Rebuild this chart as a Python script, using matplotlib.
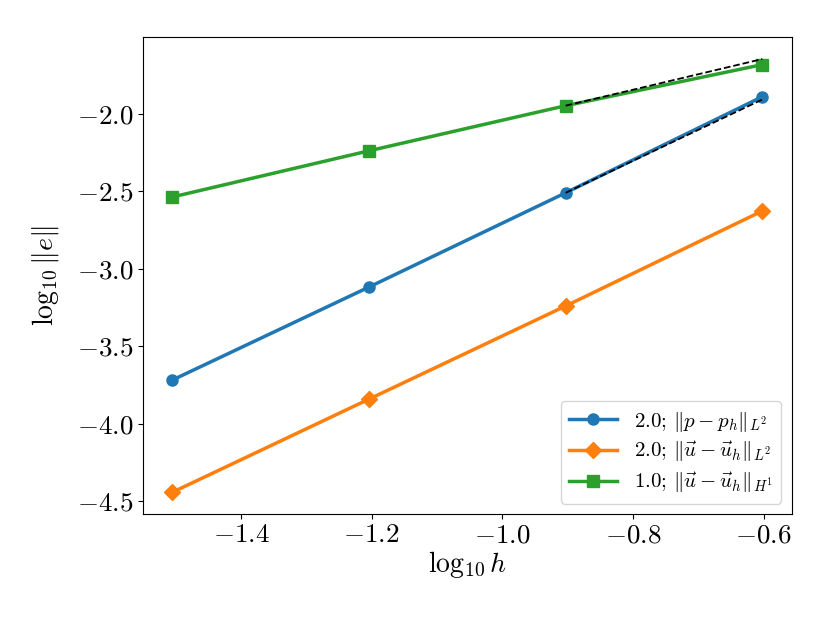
import numpy as np
import matplotlib
matplotlib.use("Agg")
import matplotlib.pyplot as plt

plt.rcParams['mathtext.fontset'] = 'cm'
plt.rcParams['font.family'] = 'serif'
plt.rcParams['font.serif'] = ['cmr10', 'DejaVu Serif']
plt.rcParams['axes.formatter.use_mathtext'] = True
plt.rcParams['axes.unicode_minus'] = True

# log10 of mesh size h = 1/32, 1/16, 1/8, 1/4
log_h = [-1.505, -1.204, -0.903, -0.602]

err_p_L2 = [-3.718, -3.118, -2.510, -1.890]
err_u_L2 = [-4.442, -3.841, -3.240, -2.627]
err_u_H1 = [-2.537, -2.239, -1.948, -1.683]

rates = [2.0, 2.0, 1.0]
labels = [r'$2.0$; $\|p - p_h\|_{L^2}$',
          r'$2.0$; $\|\vec{u} - \vec{u}_h\|_{L^2}$',
          r'$1.0$; $\|\vec{u} - \vec{u}_h\|_{H^1}$']

fig, ax = plt.subplots(figsize=(8.3, 6.23), dpi=100)
fig.subplots_adjust(left=0.172, right=0.954, top=0.94, bottom=0.175)

ax.plot(log_h, err_p_L2, '-o', color='C0', lw=2.5, ms=8, label=labels[0])
ax.plot(log_h, err_u_L2, '-D', color='C1', lw=2.5, ms=8, label=labels[1])
ax.plot(log_h, err_u_H1, '-s', color='C2', lw=2.5, ms=8, label=labels[2])

# reference slopes over the last interval
for err, r in [(err_p_L2, rates[0]), (err_u_H1, rates[2])]:
    x0, x1 = log_h[2], log_h[3]
    ax.plot([x0, x1], [err[2], err[2] + r * (x1 - x0)], 'k--', lw=1.3)

ax.set_xlabel(r'$\log_{10} h$', fontsize=20, labelpad=1)
ax.set_ylabel(r'$\log_{10} \|e\|$', fontsize=20, labelpad=11)
ax.tick_params(labelsize=19.5)
ax.legend(loc='lower right', fontsize=15, labelspacing=0.3, handlelength=2.3)

fig.savefig('out.png', dpi=100)
